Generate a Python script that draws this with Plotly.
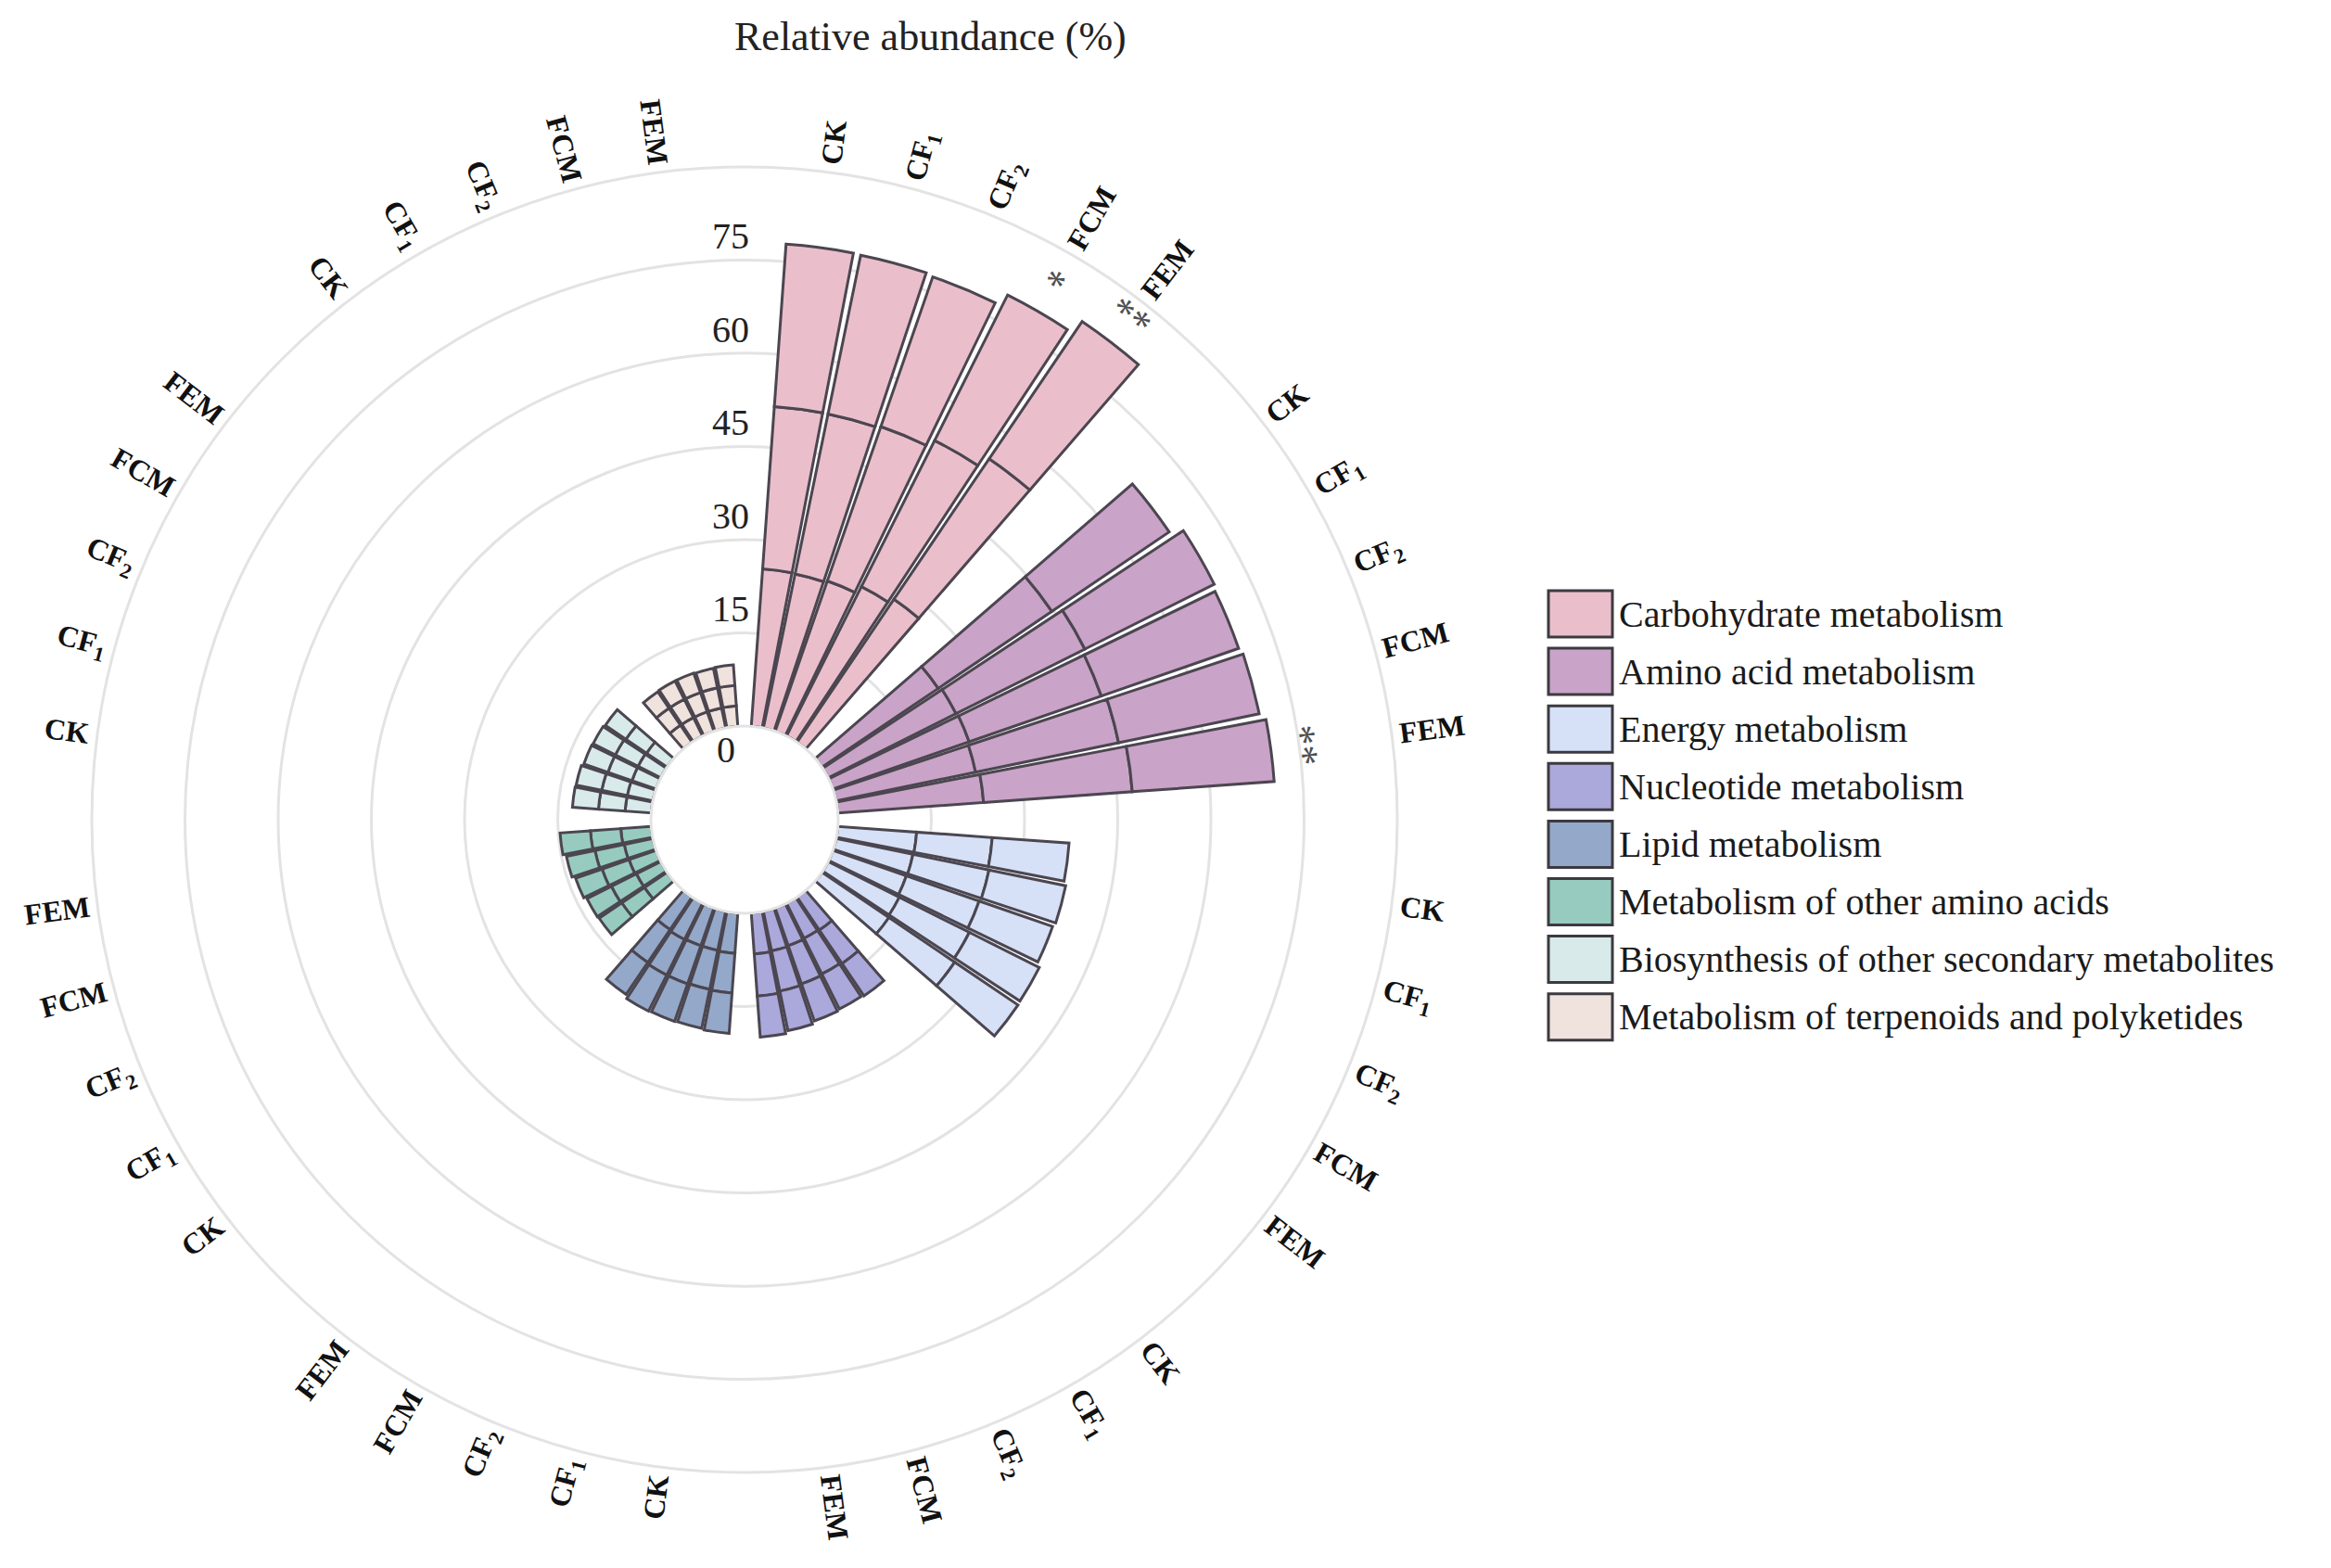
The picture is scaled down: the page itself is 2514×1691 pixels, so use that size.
import math
import plotly.graph_objects as go

# -----------------------------
# Data (three replicates stacked per bar)
# -----------------------------
groups = [
    "Carbohydrate metabolism",
    "Amino acid metabolism",
    "Energy metabolism",
    "Nucleotide metabolism",
    "Lipid metabolism",
    "Metabolism of other amino acids",
    "Biosynthesis of other secondary metabolites",
    "Metabolism of terpenoids and polyketides",
]
treatments = ["CK", "CF<sub>1</sub>", "CF<sub>2</sub>", "FCM", "FEM"]

# order: group by group, CK, CF1, CF2, FCM, FEM
rep1 = [25.4, 25.3, 25.6, 26.9, 27.8,
        22.6, 23.0, 23.2, 22.9, 23.5,
        12.7, 12.6, 12.5, 12.8, 13.0,
        6.4, 6.3, 6.4, 6.5, 6.6,
        6.5, 6.4, 6.4, 6.5, 6.3,
        4.4, 4.4, 4.6, 4.7, 4.9,
        4.2, 4.2, 4.1, 4.1, 4.0,
        3.3, 3.3, 3.3, 3.3, 3.3]
rep2 = [26.2, 26.3, 26.3, 26.3, 27.3,
        22.1, 23.2, 22.5, 23.5, 24.0,
        12.2, 12.5, 12.4, 12.6, 12.8,
        6.5, 6.4, 6.5, 6.6, 6.8,
        6.4, 6.4, 6.5, 6.4, 6.4,
        4.4, 4.5, 4.6, 4.8, 4.9,
        4.3, 4.2, 4.1, 4.1, 4.0,
        3.3, 3.3, 3.3, 3.3, 3.3]
rep3 = [26.2, 26.1, 25.5, 26.2, 26.7,
        22.8, 23.3, 23.4, 23.1, 22.9,
        12.4, 12.6, 12.5, 12.6, 12.3,
        6.3, 6.3, 6.3, 6.5, 6.6,
        6.5, 6.4, 6.4, 6.5, 6.2,
        4.4, 4.4, 4.5, 4.7, 4.9,
        4.2, 4.2, 4.1, 4.0, 4.0,
        3.2, 3.3, 3.3, 3.2, 3.3]
significance = ["", "", "", "*", "**",
                "", "", "", "", "**"] + [""] * 30

group_colors = ["#EABFCB", "#CAA3C8", "#D6E1F7", "#ABA8DB",
                "#94A8C9", "#97CBBF", "#D8EAEA", "#F0E2DC"]
radial_ticks = [0, 15, 30, 45, 60, 75]

# -----------------------------
# Geometry of the polar panel (pixels)
# -----------------------------
W, H = 2514, 1691
CX, CY = 795, 876
R_OUT = 704
R_MAX = 90
HOLE = 101 / R_OUT
FONT = "Liberation Serif"


def rho(v):
    return R_OUT * (HOLE + (1 - HOLE) * v / R_MAX)


def to_paper(theta, rr, dx=0):
    t = math.radians(theta)
    x = CX + rr * math.sin(t) + dx
    y = CY - rr * math.cos(t)
    return x / W, 1 - y / H


categories = []
for g, grp in enumerate(groups):
    categories.append(f"gap{g}")
    for t in treatments:
        categories.append(f"{grp}|{t}")
step = 360 / len(categories)

bar_theta = [f"{grp}|{t}" for grp in groups for t in treatments]
bar_colors = [group_colors[g] for g in range(len(groups)) for _ in treatments]

fig = go.Figure()
for reps in (rep1, rep2, rep3):
    fig.add_trace(go.Barpolar(
        r=reps, theta=bar_theta,
        marker=dict(color=bar_colors, line=dict(color="#4b4650", width=3)),
        showlegend=False, hoverinfo="r+theta",
    ))

annotations = []

# angular labels, rotated along the radius
label_w = {"CK": 46, "CF<sub>1</sub>": 52, "CF<sub>2</sub>": 52, "FCM": 70, "FEM": 68}
totals = [a + b + c for a, b, c in zip(rep1, rep2, rep3)]
for i, name in enumerate(bar_theta):
    th = categories.index(name) * step
    t = name.split("|")[1]
    ang = th - 90 if th < 180 else th - 270
    x, y = to_paper(th, 714 + label_w[t] / 2)
    annotations.append(dict(x=x, y=y, xref="paper", yref="paper", text=f"<b>{t}</b>",
                            textangle=ang, showarrow=False, xanchor="center", yanchor="middle",
                            font=dict(family=FONT, size=32, color="#111111")))
    if significance[i]:
        x, y = to_paper(th, rho(totals[i]) + 34)
        annotations.append(dict(x=x, y=y, xref="paper", yref="paper", text=significance[i],
                                textangle=th, showarrow=False, xanchor="center", yanchor="middle",
                                font=dict(family=FONT, size=44, color="#505050")))

# radial tick labels
for v in radial_ticks:
    rr = rho(v) + 26 if v > 0 else 75
    x, y = to_paper(0, rr, dx=-15 if v > 0 else -20)
    annotations.append(dict(x=x, y=y, xref="paper", yref="paper", text=str(v),
                            showarrow=False, xanchor="center", yanchor="middle",
                            font=dict(family=FONT, size=40, color="#222222")))

# title
annotations.append(dict(x=995 / W, y=1 - 32 / H, xref="paper", yref="paper",
                        text="Relative abundance (%)", showarrow=False,
                        xanchor="center", yanchor="middle",
                        font=dict(family=FONT, size=44, color="#222222")))

# legend drawn by hand (large boxes)
shapes = []
for g, grp in enumerate(groups):
    cy = 654 + 62.1 * g
    shapes.append(dict(type="rect", xref="paper", yref="paper",
                       x0=1662 / W, x1=1731 / W, y0=1 - (cy - 25) / H, y1=1 - (cy + 25) / H,
                       fillcolor=group_colors[g], line=dict(color="#3c3a40", width=3)))
    annotations.append(dict(x=1736 / W, y=1 - cy / H, xref="paper", yref="paper",
                            text=grp, showarrow=False, xanchor="left", yanchor="middle",
                            font=dict(family=FONT, size=40, color="#1a1a1a")))

fig.update_layout(
    width=W, height=H,
    margin=dict(l=0, r=0, t=0, b=0),
    paper_bgcolor="white",
    showlegend=False,
    polar=dict(
        domain=dict(x=[(CX - R_OUT) / W, (CX + R_OUT) / W],
                    y=[1 - (CY + R_OUT) / H, 1 - (CY - R_OUT) / H]),
        hole=HOLE,
        bgcolor="white",
        bargap=0.1,
        radialaxis=dict(range=[0, R_MAX], tickvals=radial_ticks[1:], showticklabels=False,
                        ticks="", showline=False, gridcolor="#e3e3e3", gridwidth=3),
        angularaxis=dict(type="category", categoryorder="array", categoryarray=categories,
                         rotation=90, direction="clockwise", showticklabels=False,
                         ticks="", showgrid=False, showline=True,
                         linecolor="#e3e3e3", linewidth=3),
    ),
    annotations=annotations,
    shapes=shapes,
)

fig.write_html("out.html")
